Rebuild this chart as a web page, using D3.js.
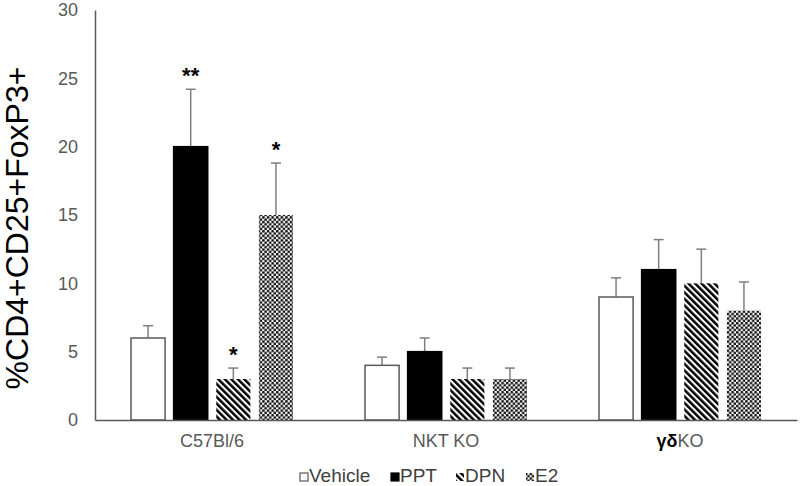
<!DOCTYPE html>
<html>
<head>
<meta charset="utf-8">
<script src="https://cdn.jsdelivr.net/npm/d3@7/dist/d3.min.js"></script>
<style>
  html, body { margin: 0; padding: 0; background: #fff; }
  svg { display: block; font-family: "Liberation Sans", Arial, sans-serif; }
</style>
</head>
<body>
<svg id="chart" width="800" height="486"></svg>
<script>
const categories = ["C57Bl/6", "NKT KO", "γδKO"];
const series = ["Vehicle", "PPT", "DPN", "E2"];
const vehicle = [6, 4, 9];
const ppt = [20, 5, 11];
const dpn = [3, 3, 10];
const e2 = [15, 3, 8];
const vehicleErr = [0.9, 0.6, 1.4];
const pptErr = [4.2, 1.0, 2.2];
const dpnErr = [0.8, 0.8, 2.5];
const e2Err = [3.8, 0.8, 2.1];
const yTicks = [0, 5, 10, 15, 20, 25, 30];
const stars = [
  { category: "C57Bl/6", series: "PPT", label: "**" },
  { category: "C57Bl/6", series: "DPN", label: "*" },
  { category: "C57Bl/6", series: "E2", label: "*" }
];

const valuesBySeries = { Vehicle: vehicle, PPT: ppt, DPN: dpn, E2: e2 };
const errBySeries = { Vehicle: vehicleErr, PPT: pptErr, DPN: dpnErr, E2: e2Err };

const svg = d3.select("#chart");
const margin = { left: 95, right: 3, top: 10, bottom: 65 };
const W = 800, H = 486;

const x0 = d3.scaleBand().domain(categories).range([margin.left, W - margin.right]).padding(0);
const x1 = d3.scaleBand().domain(series).range([36, 198]).paddingInner(0.2).paddingOuter(0);
const y = d3.scaleLinear().domain([0, 30]).range([H - margin.bottom - 1, margin.top]);

// patterns
const defs = svg.append("defs");
const stripe = defs.append("pattern")
  .attr("id", "stripes").attr("patternUnits", "userSpaceOnUse")
  .attr("width", 4.6).attr("height", 10)
  .attr("patternTransform", "rotate(-45)");
stripe.append("rect").attr("width", 4.6).attr("height", 10).attr("fill", "#fff");
stripe.append("rect").attr("width", 2.5).attr("height", 10).attr("fill", "#000");

const dots = defs.append("pattern")
  .attr("id", "dots").attr("patternUnits", "userSpaceOnUse")
  .attr("width", 4.6).attr("height", 4.6);
dots.append("rect").attr("width", 4.6).attr("height", 4.6).attr("fill", "#fff");
dots.append("circle").attr("cx", 1.15).attr("cy", 1.15).attr("r", 1.4).attr("fill", "#111");
dots.append("circle").attr("cx", 3.45).attr("cy", 3.45).attr("r", 1.4).attr("fill", "#111");

const fills = { Vehicle: "#fff", PPT: "#000", DPN: "url(#stripes)", E2: "url(#dots)" };
const strokes = { Vehicle: "#595959", PPT: "#000", DPN: "none", E2: "none" };

// y axis
const yAxis = d3.axisLeft(y).tickValues(yTicks).tickSize(0).tickPadding(17);
const gy = svg.append("g").attr("transform", `translate(${margin.left},0)`).call(yAxis);
gy.select(".domain").attr("stroke", "#595959").attr("stroke-width", 1.5);
gy.selectAll("text").attr("fill", "#595959").attr("font-size", 18)
  .attr("font-family", "Liberation Sans, Arial, sans-serif");

// bars
const rows = [];
categories.forEach((c, i) => series.forEach(s => rows.push({
  c, s, v: valuesBySeries[s][i], e: errBySeries[s][i]
})));

const g = svg.append("g");
// error bars
const eg = g.selectAll("g.err").data(rows).join("g").attr("class", "err");
eg.append("line")
  .attr("x1", d => x0(d.c) + x1(d.s) + x1.bandwidth() / 2)
  .attr("x2", d => x0(d.c) + x1(d.s) + x1.bandwidth() / 2)
  .attr("y1", d => y(d.v)).attr("y2", d => y(d.v + d.e))
  .attr("stroke", "#7f7f7f").attr("stroke-width", 1.5);
eg.append("line")
  .attr("x1", d => x0(d.c) + x1(d.s) + x1.bandwidth() / 2 - 5)
  .attr("x2", d => x0(d.c) + x1(d.s) + x1.bandwidth() / 2 + 5)
  .attr("y1", d => y(d.v + d.e)).attr("y2", d => y(d.v + d.e))
  .attr("stroke", "#7f7f7f").attr("stroke-width", 1.5);

g.selectAll("rect.bar").data(rows).join("rect").attr("class", "bar")
  .attr("x", d => x0(d.c) + x1(d.s))
  .attr("width", x1.bandwidth())
  .attr("y", d => y(d.v))
  .attr("height", d => y(0) - y(d.v))
  .attr("fill", d => fills[d.s])
  .attr("stroke", d => strokes[d.s])
  .attr("stroke-width", 1.5);

// x axis baseline
const xAxis = d3.axisBottom(x0).tickSize(0).tickPadding(14).tickFormat("");
const gx = svg.append("g").attr("transform", `translate(0,${y(0)})`).call(xAxis);
gx.select(".domain").attr("stroke", "#595959").attr("stroke-width", 1.5);
gx.selectAll(".tick").each(function (d) {
  const t = d3.select(this).append("text").attr("y", 27).attr("text-anchor", "middle")
    .attr("font-size", 18).attr("fill", "#595959")
    .attr("font-family", "Liberation Sans, Arial, sans-serif");
  if (d === "γδKO") {
    t.append("tspan").attr("fill", "#000").attr("font-weight", "bold").text("γδ");
    t.append("tspan").text("KO");
  } else {
    t.text(d);
  }
});

// significance stars
g.selectAll("text.star").data(stars).join("text").attr("class", "star")
  .attr("x", d => x0(d.category) + x1(d.series) + x1.bandwidth() / 2)
  .attr("y", d => {
    const i = categories.indexOf(d.category);
    return y(valuesBySeries[d.series][i] + errBySeries[d.series][i]) - 6;
  })
  .attr("text-anchor", "middle").attr("font-size", 22).attr("font-weight", "bold")
  .attr("fill", "#000").text(d => d.label);

// y title
svg.append("text")
  .attr("transform", `translate(28,${(y(0) + y(30)) / 2 + 13}) rotate(-90)`)
  .attr("text-anchor", "middle").attr("font-size", 32).attr("fill", "#000")
  .text("%CD4+CD25+FoxP3+");

// legend
const legend = svg.append("g").attr("transform", "translate(299,482)");
const items = [
  { s: "Vehicle", x: 0 },
  { s: "PPT", x: 91 },
  { s: "DPN", x: 156 },
  { s: "E2", x: 226 }
];
items.forEach(it => {
  const lg = legend.append("g").attr("transform", `translate(${it.x},0)`);
  lg.append("rect").attr("x", 1).attr("y", -9).attr("width", 8).attr("height", 8)
    .attr("fill", fills[it.s]).attr("stroke", it.s === "Vehicle" ? "#595959" : (it.s === "PPT" ? "#000" : "none"))
    .attr("stroke-width", 1.2);
  lg.append("text").attr("x", 10).attr("y", 0).attr("font-size", 19).attr("fill", "#404040")
    .text(it.s);
});
</script>
</body>
</html>
